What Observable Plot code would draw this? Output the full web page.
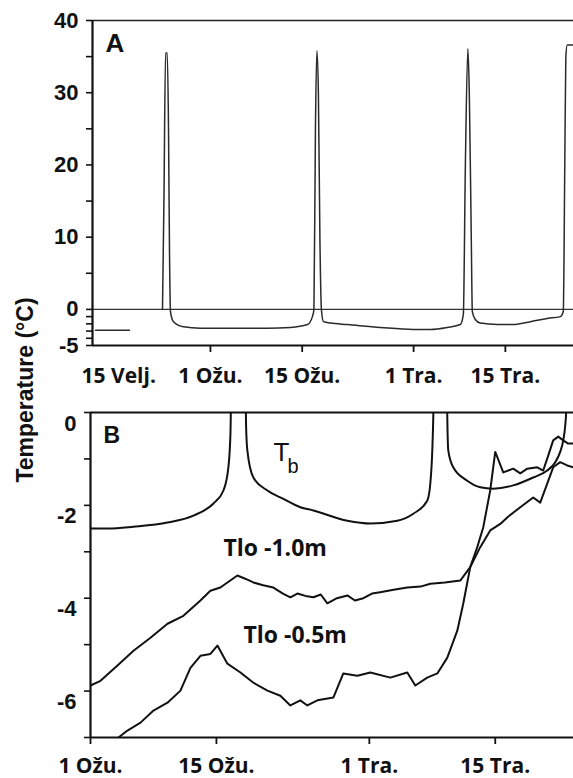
<!DOCTYPE html>
<html><head><meta charset="utf-8">
<script src="https://cdn.jsdelivr.net/npm/d3@7"></script>
<script src="https://cdn.jsdelivr.net/npm/@observablehq/plot@0.6"></script>
<style>
html,body{margin:0;padding:0;background:#fff;}
#wrap{position:relative;width:573px;height:778px;overflow:hidden;background:#fff;}
#wrap svg{position:absolute;left:0;}
#ytitle{position:absolute;left:25px;top:390px;transform:translate(-50%,-50%) rotate(-90deg);font:bold 23px "Liberation Sans",Arial,sans-serif;white-space:nowrap;color:#111;}
</style></head><body>
<div id="wrap"><div id="ytitle">Temperature (°C)</div></div>
<script>
// ---------- Panel A: body temperature (days since 1 March) ----------
const tbA_stub = [[-17.54,-2.9],[-12.36,-2.9]];
const tbA_main = [
 [-7.32,0],[-7.1,15],[-6.85,35.5],[-6.6,35.5],[-6.4,25],[-6.25,8],[-6.1,-0.3],[-5.64,-1.7],[-4.12,-2.4],
 [-1.53,-2.6],[3.5,-2.6],[8.7,-2.6],[12.2,-2.5],[14.8,-2.1],[15.56,-1.0],[15.79,0],[16.02,25],[16.24,35.8],
 [16.47,30],[16.7,10],[16.93,0],[17.24,-1.7],[18.3,-1.9],[20.9,-2.1],[25.93,-2.5],[30.96,-2.78],[33.56,-2.78],
 [36.15,-2.5],[38.13,-2.1],[38.59,-0.7],[38.9,20],[39.28,36.1],[39.5,30],[39.8,10],[39.96,-0.3],[40.42,-1.4],
 [41.18,-1.9],[43.78,-2.1],[46.22,-2.1],[48.81,-1.7],[51.4,-1.25],[53.39,-1.0],[53.84,-0.3],[54.07,20],
 [54.23,35],[54.45,36.6],[55.37,36.6]
];
const xDomainA = [-18, 55.4];
const yDomainA = [-5, 40];
const xTicksA = [0, 14, 31, 45];
const xLabelDaysA = [-14, 0, 14, 31, 45];
const xLabelsA = ["15 Velj.", "1 Ožu.", "15 Ožu.", "1 Tra.", "15 Tra."];
const yTicksA = [40,35,30,25,20,15,10,5,0,-1,-2,-3,-4,-5];
const yLabelsA = [40,30,20,10,0,-5];
const letterA = ["A"];

// ---------- Panel B: body and soil temperature (days since 1 March) ----------
const tbB = [
 [0,-2.5],[2,-2.5],[4.78,-2.46],[8.56,-2.37],[11.44,-2.22],[13.67,-1.96],[14.78,-1.68],[15.33,-1.18],
 [15.56,-0.45],[15.7,1],[17.2,1],[17.3,-0.3],[17.44,-0.82],[18.11,-1.4],[19.67,-1.68],[21.44,-1.86],
 [23.33,-2.04],[24.78,-2.11],[28.56,-2.33],[31.11,-2.39],[34.11,-2.33],[35.89,-2.18],[37.44,-1.9],
 [37.78,-1.53],[38.0,-0.82],[38.11,-0.1],[38.2,1],[39.6,1],[39.67,-0.1],[39.78,-0.82],[40.33,-1.18],
 [41.89,-1.47],[43.33,-1.61],[44.78,-1.64],[47.0,-1.57],[49.22,-1.4],[50.78,-1.25],[51.67,-1.07],
 [52.2,-0.86],[52.56,-0.6],[52.78,-0.28],[52.89,0.05],[52.95,1],[53.7,1]
];
const soil10 = [
 [0,-5.88],[1.11,-5.78],[3.0,-5.45],[4.78,-5.13],[6.67,-4.85],[8.56,-4.55],[10.33,-4.38],[12.22,-4.05],
 [13.33,-3.84],[14.44,-3.77],[16.33,-3.51],[17.2,-3.58],[18.11,-3.66],[19.2,-3.72],[20.33,-3.77],
 [21.4,-3.9],[22.22,-3.98],[23.0,-3.9],[23.9,-3.95],[24.78,-3.98],[25.6,-3.92],[26.33,-4.11],[27.4,-4.0],
 [28.56,-3.94],[29.4,-4.05],[30.33,-4.0],[31.3,-3.9],[32.2,-3.87],[33.7,-3.82],[35.22,-3.77],[36.7,-3.75],
 [37.78,-3.69],[39.4,-3.66],[41.11,-3.62],[42.22,-3.33],[43.33,-2.9],[44.44,-2.54],[45.56,-2.4],
 [46.33,-2.26],[47.78,-2.04],[49.22,-1.83],[50.0,-1.94],[50.78,-1.53],[51.44,-1.18],[52.22,-1.07],
 [53.0,-1.14],[53.67,-1.18]
];
const soil05 = [
 [2.6,-7.15],[3.11,-7.0],[4.11,-6.85],[5.56,-6.68],[7.0,-6.42],[8.56,-6.25],[10.0,-5.99],[11.11,-5.5],
 [12.22,-5.24],[13.33,-5.2],[14.11,-5.02],[15.22,-5.41],[16.67,-5.6],[18.11,-5.82],[19.67,-5.99],
 [21.11,-6.1],[22.22,-6.31],[23.33,-6.2],[24.11,-6.31],[25.22,-6.2],[27.0,-6.14],[28.11,-5.62],
 [29.67,-5.67],[31.11,-5.6],[33.33,-5.71],[35.22,-5.6],[36.11,-5.88],[37.44,-5.71],[38.56,-5.62],
 [39.67,-5.28],[40.78,-4.7],[41.44,-4.12],[42.22,-3.33],[43.0,-2.9],[43.67,-2.47],[44.44,-1.68],
 [45.0,-0.85],[45.89,-1.29],[47.0,-1.21],[47.78,-1.31],[48.56,-1.21],[49.67,-1.18],[50.33,-1.25],
 [50.89,-0.93],[51.44,-0.6],[52.0,-0.52],[52.56,-0.6],[53.11,-0.67],[53.67,-0.67]
];
const xDomainB = [0, 53.7];
const yDomainB = [-7, 0];
const xTicksB = [0, 14, 31, 45];
const xLabelsB = ["1 Ožu.", "15 Ožu.", "1 Tra.", "15 Tra."];
const yTicksB = [0,-1,-2,-3,-4,-5,-6,-7];
const yLabelsB = [0,-2,-4,-6];
const letterB = ["B"];
const labelT = ["T"];
const labelSub = ["b"];
const labelSoil10 = ["Tlo -1.0m"];
const labelSoil05 = ["Tlo -0.5m"];

// ---------- build tables ----------
const toRows = (arr, seg) => arr.map(([day, temp]) => ({day, temp, seg}));
const tbARows = [...toRows(tbA_stub, "a"), ...toRows(tbA_main, "b")];

const SANS = "Liberation Sans, Arial, sans-serif";
const OPEN = "Open Sans, sans-serif";
const INK = "#111";

const plotA = Plot.plot({
  width: 573, height: 400,
  marginLeft: 92, marginRight: 0, marginTop: 20, marginBottom: 55,
  style: {background: "transparent", fontFamily: SANS, overflow: "visible", color: INK},
  x: {domain: xDomainA},
  y: {domain: yDomainA},
  marks: [
    Plot.ruleY([0], {stroke: "#333", strokeWidth: 1.3}),
    Plot.ruleY([yDomainA[1]], {stroke: "#222", strokeWidth: 1.6}),
    Plot.line(tbARows, {x: "day", y: "temp", z: "seg", stroke: "#2a2a2a", strokeWidth: 1.5, curve: "monotone-x"}),
    Plot.ruleX([xDomainA[0]], {stroke: INK, strokeWidth: 2.2}),
    Plot.ruleY([yDomainA[0]], {stroke: INK, strokeWidth: 2.2}),
    Plot.axisY({ticks: yTicksA, tickFormat: d => yLabelsA.includes(d) ? String(d) : "",
      tickSize: 6, tickPadding: 8, strokeWidth: 1.6, fontSize: 22, fontWeight: "bold", fontFamily: SANS, label: null}),
    Plot.axisX({ticks: xTicksA, tickFormat: () => "", tickSize: 7, strokeWidth: 1.8, label: null}),
    Plot.axisX({ticks: xLabelDaysA, tickFormat: d => xLabelsA[xLabelDaysA.indexOf(d)], tickSize: 0,
      tickPadding: 23, fontSize: 21, fontWeight: "bold", fontFamily: OPEN, label: null}),
    Plot.text(letterA, {text: d => d, frameAnchor: "top-left", dx: 13, dy: 23, textAnchor: "start",
      lineAnchor: "middle", fontSize: 26, fontWeight: "bold", fontFamily: SANS})
  ]
});
plotA.style.top = "0px";

const plotB = Plot.plot({
  width: 573, height: 378,
  marginLeft: 90, marginRight: 0, marginTop: 12, marginBottom: 41,
  style: {background: "transparent", fontFamily: SANS, overflow: "visible", color: INK},
  x: {domain: xDomainB},
  y: {domain: yDomainB},
  marks: [
    Plot.ruleY([yDomainB[1]], {stroke: INK, strokeWidth: 1.8}),
    Plot.line(toRows(tbB), {x: "day", y: "temp", stroke: INK, strokeWidth: 2, curve: "monotone-x", clip: true}),
    Plot.line(toRows(soil10), {x: "day", y: "temp", stroke: INK, strokeWidth: 2, clip: true}),
    Plot.line(toRows(soil05), {x: "day", y: "temp", stroke: INK, strokeWidth: 2, clip: true}),
    Plot.ruleX([xDomainB[0]], {stroke: INK, strokeWidth: 2.2}),
    Plot.ruleY([yDomainB[0]], {stroke: INK, strokeWidth: 2.2}),
    Plot.axisY({ticks: yTicksB, tickFormat: () => "", tickSize: 6, strokeWidth: 1.6, label: null}),
    Plot.axisY({ticks: yLabelsB, tickFormat: d => String(d), tickSize: 0, tickPadding: 14, dy: 11,
      fontSize: 22, fontWeight: "bold", fontFamily: SANS, label: null}),
    Plot.axisX({ticks: xTicksB, tickFormat: () => "", tickSize: 7, strokeWidth: 1.8, label: null}),
    Plot.axisX({ticks: xTicksB, tickFormat: d => xLabelsB[xTicksB.indexOf(d)], tickSize: 0,
      tickPadding: 21, fontSize: 21, fontWeight: "bold", fontFamily: OPEN, label: null}),
    Plot.text(letterB, {text: d => d, frameAnchor: "top-left", dx: 13, dy: 23, textAnchor: "start",
      lineAnchor: "middle", fontSize: 23, fontWeight: "bold", fontFamily: SANS}),
    Plot.text(labelT, {text: d => d, frameAnchor: "top-left", dx: 183, dy: 40, textAnchor: "start",
      lineAnchor: "middle", fontSize: 26, fontFamily: SANS}),
    Plot.text(labelSub, {text: d => d, frameAnchor: "top-left", dx: 197, dy: 54, textAnchor: "start",
      lineAnchor: "middle", fontSize: 20, fontFamily: SANS}),
    Plot.text(labelSoil10, {text: d => d, frameAnchor: "top-left", dx: 133, dy: 136, textAnchor: "start",
      lineAnchor: "middle", fontSize: 23, fontWeight: "bold", fontFamily: OPEN}),
    Plot.text(labelSoil05, {text: d => d, frameAnchor: "top-left", dx: 153, dy: 223, textAnchor: "start",
      lineAnchor: "middle", fontSize: 23, fontWeight: "bold", fontFamily: OPEN})
  ]
});
plotB.style.top = "400px";

const wrap = document.getElementById("wrap");
wrap.appendChild(plotA);
wrap.appendChild(plotB);
</script>
</body></html>
